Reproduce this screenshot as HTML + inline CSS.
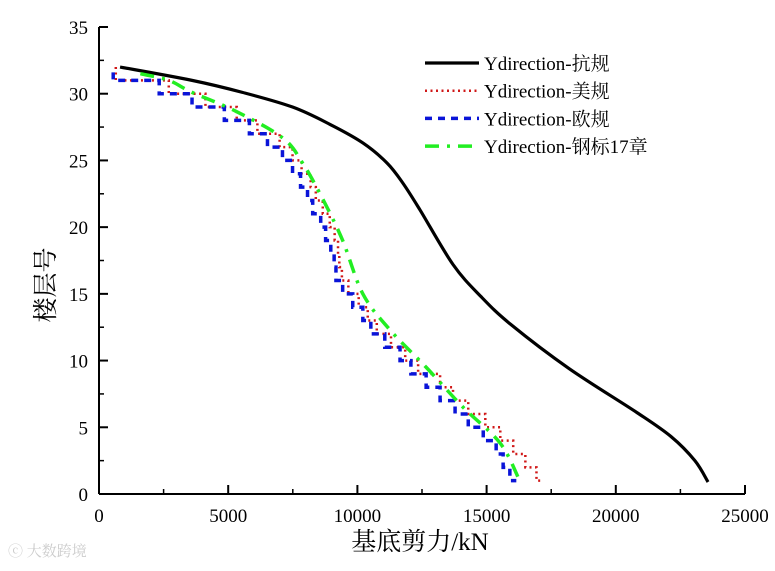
<!DOCTYPE html>
<html><head><meta charset="utf-8"><style>
body{margin:0;background:#fff}
text{font-family:"Liberation Serif","Times New Roman","DejaVu Serif","Noto Serif CJK SC",serif !important}
</style></head><body>
<svg id="chart" width="775" height="566" viewBox="0 0 775 566">
<g id="axes"></g>
<g id="series"></g>
<g id="legend"></g>
<text x="420" y="550" font-size="25" text-anchor="middle">基底剪力/kN</text>
<text transform="translate(54,285) rotate(-90)" font-size="25" text-anchor="middle">楼层号</text>
<text x="8" y="556" font-size="15" fill="#ccc">ⓒ 大数跨境</text>
</svg>
<script>
const xTicks=[0,5000,10000,15000,20000,25000];
const yTicks=[0,5,10,15,20,25,30,35];
const floorsStep=[31,30,29,28,27,26,25,24,23,22,21,20,19,18,17,16,15,14,13,12,11,10,9,8,7,6,5,4,3,2,1];
const blueVals=[2330,3600,4850,5820,6520,7100,7490,7800,8070,8270,8580,8770,8970,9100,9170,9430,9820,10210,10520,11060,11650,12070,12660,13200,13780,14290,14870,15370,15640,15900,16150];
const redVals=[2700,4120,5330,6130,6990,7490,7840,8190,8390,8660,8930,9120,9250,9300,9400,9650,10050,10400,10750,11300,11850,12350,13200,13700,14290,14950,15530,16030,16500,16930,17120];
const greenX=[1600,2700,3600,5280,7100,7880,8660,9430,10210,11260,12660,14090,15530,16300];
const greenY=[31.5,31,30.1,28.7,26.7,24.8,22.1,19,15,12.3,9.5,6.5,3.8,0.9];
const blackX=[815,3600,5550,7490,8940,10220,11150,11760,12420,13700,14780,15940,18190,20820,22140,23060,23570];
const blackY=[32,31,30.1,29,27.7,26.3,24.8,23.3,21.3,17.2,14.8,12.7,9.4,6.1,4.3,2.5,0.9];
const X0=99,X1=745,Y0=494,Y1=27;
const xs=v=>X0+(v/25000)*(X1-X0);
const ys=v=>Y0-(v/35)*(Y0-Y1);
const NS='http://www.w3.org/2000/svg';
function mk(t,a,p){const e=document.createElementNS(NS,t);for(const k in a)e.setAttribute(k,a[k]);p.appendChild(e);return e;}
const ax=document.getElementById('axes');
let l=mk('line',{x1:X0,y1:Y0,x2:X1,y2:Y0,stroke:'#000','stroke-width':2},ax);


l=mk('line',{x1:X0,y1:Y0,x2:X0,y2:Y1,stroke:'#000','stroke-width':2},ax);


xTicks.forEach((v,i)=>{
 const x=xs(v);
 mk('line',{x1:x,y1:Y0,x2:x,y2:Y0-9,stroke:'#000','stroke-width':2},ax);
 if(i<xTicks.length-1){const xm=xs(v+2500);mk('line',{x1:xm,y1:Y0,x2:xm,y2:Y0-5,stroke:'#000','stroke-width':1.5},ax);}
 const t=mk('text',{x:x,y:Y0+28,'font-size':19,'text-anchor':'middle'},ax);t.textContent=v;
 
 
});
yTicks.forEach((v,i)=>{
 const y=ys(v);
 mk('line',{x1:X0,y1:y,x2:X0+9,y2:y,stroke:'#000','stroke-width':2},ax);
 if(i<yTicks.length-1){const ym=ys(v+2.5);mk('line',{x1:X0,y1:ym,x2:X0+5,y2:ym,stroke:'#000','stroke-width':1.5},ax);}
 const t=mk('text',{x:X0-11,y:y+7,'font-size':19,'text-anchor':'end'},ax);t.textContent=v;
 
 
});
const sg=document.getElementById('series');
function stepPath(vals,startX,startY){
 let d='M'+xs(startX)+','+ys(startY)+' L'+xs(startX)+','+ys(floorsStep[0]);
 vals.forEach((v,i)=>{const f=floorsStep[i];
  d+=' L'+xs(v)+','+ys(f);
  if(i<vals.length-1)d+=' L'+xs(v)+','+ys(floorsStep[i+1]);
 });return d;}
function smoothPath(X,Y){
 const P=X.map((v,i)=>[xs(v),ys(Y[i])]);
 let d='M'+P[0][0]+','+P[0][1];
 for(let i=0;i<P.length-1;i++){
  const p0=P[Math.max(0,i-1)],p1=P[i],p2=P[i+1],p3=P[Math.min(P.length-1,i+2)];
  const c1=[p1[0]+(p2[0]-p0[0])/6,p1[1]+(p2[1]-p0[1])/6];
  const c2=[p2[0]-(p3[0]-p1[0])/6,p2[1]-(p3[1]-p1[1])/6];
  d+=' C'+c1[0]+','+c1[1]+' '+c2[0]+','+c2[1]+' '+p2[0]+','+p2[1];
 }return d;}
let p=mk('path',{d:smoothPath(blackX,blackY),fill:'none',stroke:'#000','stroke-width':3.2},sg);


p=mk('path',{d:stepPath(redVals,650,32),fill:'none',stroke:'#d01818','stroke-width':2.5,'stroke-dasharray':'2 3.5'},sg);


p=mk('path',{d:stepPath(blueVals,550,31.6),fill:'none',stroke:'#0a14d8','stroke-width':3.5,'stroke-dasharray':'7 6'},sg);


p=mk('path',{d:smoothPath(greenX,greenY),fill:'none',stroke:'#22ee22','stroke-width':3.5,'stroke-dasharray':'14 8 3 8'},sg);


const lg=document.getElementById('legend');
const legNames=['Ydirection-抗规','Ydirection-美规','Ydirection-欧规','Ydirection-钢标17章'];
const legStyles=[['#000',3.2,'none'],['#d01818',2.5,'2 3.5'],['#0a14d8',3.5,'7 6'],['#22ee22',3.5,'14 8 3 8']];
legNames.forEach((n,i)=>{
 const y=63+i*27.7;
 const g=mk('g',{},lg);
 
 
 mk('line',{x1:425,y1:y,x2:479,y2:y,stroke:legStyles[i][0],'stroke-width':legStyles[i][1],'stroke-dasharray':legStyles[i][2]},g);
 const t=mk('text',{x:484,y:y+7,'font-size':19},g);t.textContent=n;
});
</script>
</body></html>
